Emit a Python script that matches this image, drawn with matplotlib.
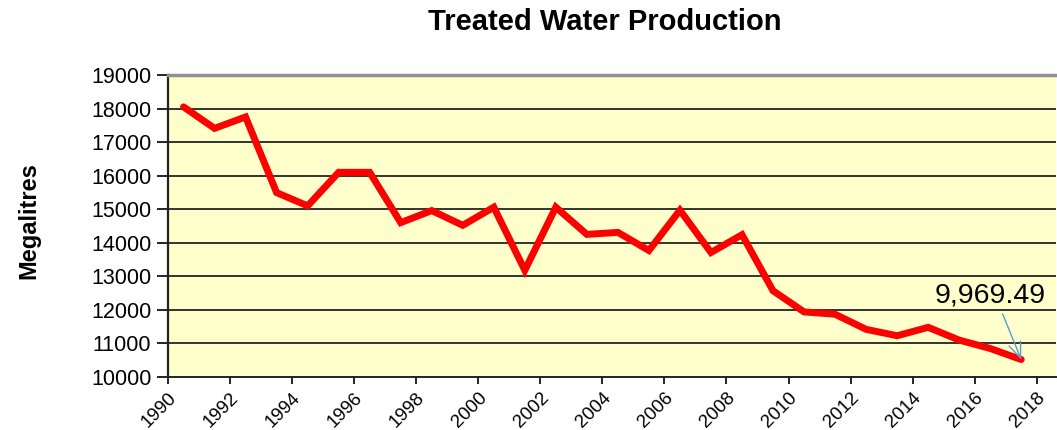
import matplotlib
matplotlib.use("Agg")
import matplotlib.pyplot as plt
from matplotlib.transforms import ScaledTranslation

years = [1990.5 + i for i in range(28)]
production = [18050, 17410, 17750, 15495, 15100, 16100, 16100, 14600, 14960, 14520,
              15060, 13180, 15060, 14250, 14310, 13770, 14970, 13710, 14240, 12570,
              11940, 11870, 11420, 11230, 11480, 11100, 10850, 10520]
xticks = list(range(1990, 2019, 2))
yticks = list(range(10000, 19001, 1000))
title = "Treated Water Production"
ylabel = "Megalitres"
annotation = "9,969.49"

plt.rcParams['font.family'] = ['Liberation Sans', 'DejaVu Sans']

fig = plt.figure(figsize=(10.57, 4.30), dpi=100)
ax = fig.add_axes([168/1057, 53/430, 888/1057, 302/430])
ax.set_facecolor('#FFFFCC')

for y in yticks[1:-1]:
    ax.axhline(y, color='#333333', lw=1.4, zorder=1)

ax.plot(years, production, color='#FF0000', lw=5.0, solid_joinstyle='miter',
        solid_capstyle='round', zorder=3)

ax.set_xlim(1990, 2018.62)
ax.set_ylim(10000, 19000)
ax.set_xticks(xticks)
ax.set_xticklabels([str(t) for t in xticks], rotation=45, ha='right',
                   rotation_mode='anchor', fontsize=13.5)
shift = ScaledTranslation(15/100, 0, fig.dpi_scale_trans)
for lbl in ax.get_xticklabels():
    lbl.set_transform(lbl.get_transform() + shift)
ax.set_yticks(yticks)
ax.set_yticklabels([str(t) for t in yticks], fontsize=15.5)
ax.tick_params(axis='y', direction='out', length=8, width=1.2, pad=4)
ax.tick_params(axis='x', direction='out', length=5, width=1.2, pad=4)

ax.spines['top'].set_color('#909090')
ax.spines['top'].set_linewidth(2.5)
ax.spines['right'].set_visible(False)
ax.spines['left'].set_color('#222222')
ax.spines['left'].set_linewidth(1.6)
ax.spines['bottom'].set_color('#222222')
ax.spines['bottom'].set_linewidth(1.4)

fig.text(605/1057, 1 - 22/430, title, ha='center', va='center',
         fontsize=21, fontweight='bold')
fig.text(29/1057, 1 - 221/430, ylabel, ha='center', va='center',
         rotation=90, fontsize=17, fontweight='bold')

ax.text(2016.51, 12440, annotation, ha='center', va='center', fontsize=20.5, zorder=5)
ax.annotate('', xy=(years[-1], production[-1]), xytext=(2016.9, 11880),
            arrowprops=dict(arrowstyle='->,head_length=1.1,head_width=0.45',
                            color='#5B9BD5', lw=1.0, shrinkA=0, shrinkB=0),
            zorder=5)

fig.savefig('out.png', dpi=100)
